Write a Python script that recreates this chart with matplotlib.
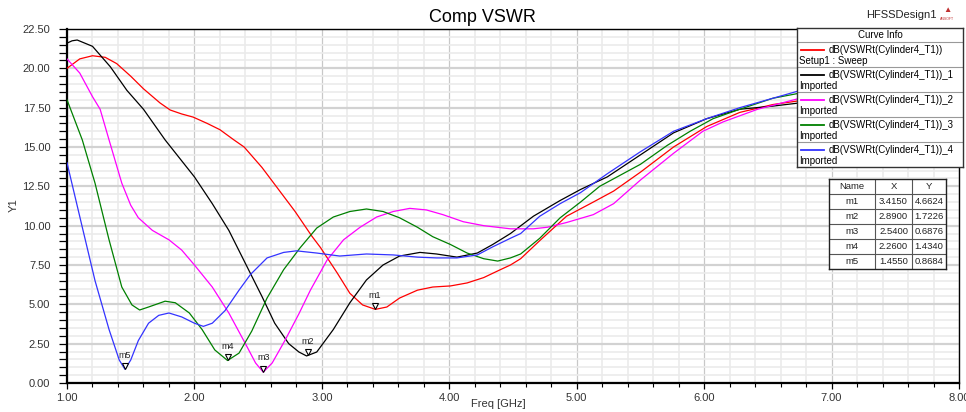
import numpy as np
import matplotlib
matplotlib.use("Agg")
import matplotlib.pyplot as plt
from matplotlib.ticker import MultipleLocator, FormatStrFormatter
from matplotlib import transforms

plt.rcParams['font.family'] = ['Liberation Sans', 'DejaVu Sans']

# ---- curve data (Freq GHz, dB VSWR) ----
red_f = [1.0, 1.1, 1.2, 1.3, 1.39, 1.5, 1.6, 1.73, 1.81, 1.9, 1.99, 2.1, 2.2, 2.31, 2.39, 2.53, 2.66,
         2.79, 2.92, 2.99, 3.12, 3.22, 3.32, 3.42, 3.51, 3.61, 3.75, 3.87, 4.01, 4.14, 4.27, 4.40,
         4.48, 4.56, 4.71, 4.92, 5.13, 5.29, 5.50, 5.76, 6.02, 6.28, 6.54, 6.80]
red_v = [20.0, 20.6, 20.8, 20.7, 20.3, 19.5, 18.7, 17.8, 17.35, 17.1, 16.9, 16.5, 16.1, 15.45, 15.0, 13.7, 12.3,
         10.9, 9.35, 8.6, 7.0, 5.7, 4.96, 4.68, 4.83, 5.4, 5.9, 6.1, 6.17, 6.36, 6.7, 7.2,
         7.5, 7.9, 9.05, 10.6, 11.5, 12.2, 13.4, 15.0, 16.3, 17.2, 17.7, 18.0]

black_f = [1.0, 1.04, 1.08, 1.2, 1.34, 1.47, 1.60, 1.77, 2.00, 2.14, 2.27, 2.40, 2.53, 2.63, 2.74, 2.82,
           2.88, 2.96, 3.09, 3.22, 3.35, 3.48, 3.61, 3.77, 3.90, 4.06, 4.22, 4.34, 4.48, 4.66, 4.87,
           5.03, 5.24, 5.50, 5.76, 6.02, 6.28, 6.54, 6.80]
black_v = [21.6, 21.75, 21.8, 21.4, 20.1, 18.6, 17.4, 15.45, 13.1, 11.4, 9.7, 7.6, 5.5, 3.8, 2.5, 1.97,
           1.72, 1.97, 3.4, 5.1, 6.55, 7.5, 8.07, 8.3, 8.2, 8.0, 8.26, 8.8, 9.5, 10.6, 11.6,
           12.3, 13.1, 14.5, 15.9, 16.8, 17.4, 17.6, 17.85]

magenta_f = [1.0, 1.10, 1.20, 1.26, 1.33, 1.43, 1.50, 1.56, 1.67, 1.80, 1.90, 2.00, 2.14, 2.27, 2.40,
             2.48, 2.54, 2.61, 2.71, 2.82, 2.91, 3.04, 3.17, 3.30, 3.43, 3.56, 3.69, 3.82, 3.95, 4.11,
             4.27, 4.48, 4.66, 4.77, 4.92, 5.13, 5.29, 5.50, 5.76, 5.99, 6.15, 6.42, 6.80]
magenta_v = [20.6, 19.7, 18.2, 17.4, 15.45, 12.7, 11.3, 10.5, 9.7, 9.1, 8.45, 7.5, 6.1, 4.45, 2.5,
             1.27, 0.69, 1.27, 2.7, 4.4, 5.9, 7.8, 9.1, 9.9, 10.55, 10.9, 11.1, 11.0, 10.7, 10.25,
             10.0, 9.8, 9.8, 9.9, 10.2, 10.7, 11.4, 12.9, 14.6, 16.0, 16.6, 17.4, 18.2]

green_f = [1.0, 1.12, 1.22, 1.33, 1.43, 1.51, 1.57, 1.64, 1.77, 1.85, 1.96, 2.06, 2.16, 2.26, 2.35,
           2.45, 2.57, 2.70, 2.83, 2.96, 3.09, 3.22, 3.35, 3.48, 3.61, 3.75, 3.87, 4.01, 4.14, 4.27,
           4.38, 4.48, 4.56, 4.71, 4.87, 5.03, 5.18, 5.50, 5.71, 5.89, 6.07, 6.28, 6.54, 6.80]
green_v = [18.0, 15.45, 12.7, 9.1, 6.1, 4.96, 4.64, 4.83, 5.2, 5.1, 4.45, 3.4, 2.1, 1.43, 1.9,
           3.3, 5.4, 7.2, 8.6, 9.85, 10.55, 10.9, 11.06, 10.9, 10.5, 9.9, 9.3, 8.8, 8.26, 7.9,
           7.75, 7.95, 8.2, 9.2, 10.5, 11.5, 12.5, 13.9, 15.1, 16.0, 16.8, 17.4, 18.1, 18.5]

blue_f = [1.0, 1.12, 1.22, 1.33, 1.41, 1.455, 1.50, 1.56, 1.64, 1.72, 1.80, 1.90, 2.00, 2.07, 2.14,
          2.24, 2.35, 2.44, 2.57, 2.70, 2.80, 2.96, 3.14, 3.35, 3.56, 3.75, 3.90, 4.06, 4.22, 4.34,
          4.48, 4.56, 4.71, 4.87, 5.03, 5.24, 5.50, 5.76, 6.02, 6.28, 6.54, 6.80]
blue_v = [14.0, 9.9, 6.5, 3.4, 1.46, 0.87, 1.46, 2.7, 3.8, 4.3, 4.45, 4.2, 3.8, 3.6, 3.8,
          4.6, 5.9, 6.9, 7.95, 8.3, 8.4, 8.26, 8.07, 8.2, 8.14, 8.0, 7.95, 7.95, 8.14, 8.65,
          9.2, 9.5, 10.6, 11.4, 12.1, 13.3, 14.7, 16.0, 16.8, 17.5, 18.1, 18.7]

curve_names = ['dB(VSWRt(Cylinder4_T1))', 'dB(VSWRt(Cylinder4_T1))_1', 'dB(VSWRt(Cylinder4_T1))_2',
               'dB(VSWRt(Cylinder4_T1))_3', 'dB(VSWRt(Cylinder4_T1))_4']
curve_sub = ['Setup1 : Sweep', 'Imported', 'Imported', 'Imported', 'Imported']
curve_colors = ['#ff0000', '#000000', '#ff00ff', '#008000', '#3333ff']

# markers (table)
mk_names = ['m1', 'm2', 'm3', 'm4', 'm5']
mk_x = [3.4150, 2.8900, 2.5400, 2.2600, 1.4550]
mk_y = [4.6624, 1.7226, 0.6876, 1.4340, 0.8684]

W, H = 966, 412
fig = plt.figure(figsize=(W / 100, H / 100), dpi=100)
ax = fig.add_axes([67 / W, 1 - 383 / H, (959 - 67) / W, (383 - 29) / H])

series = [(red_f, red_v), (black_f, black_v), (magenta_f, magenta_v), (green_f, green_v), (blue_f, blue_v)]
for (f, v), c in zip(series, curve_colors):
    ax.plot(f, v, color=c, lw=0.9, zorder=3, solid_joinstyle='round')

ax.set_xlim(1, 8)
ax.set_ylim(0, 22.5)
ax.xaxis.set_major_locator(MultipleLocator(1.0))
ax.xaxis.set_minor_locator(MultipleLocator(0.2))
ax.yaxis.set_major_locator(MultipleLocator(2.5))
ax.yaxis.set_minor_locator(MultipleLocator(0.5))
ax.xaxis.set_major_formatter(FormatStrFormatter('%.2f'))
ax.yaxis.set_major_formatter(FormatStrFormatter('%.2f'))

ax.grid(which='minor', color='#ebebeb', lw=1.2, zorder=0)
ax.grid(which='major', axis='x', color='#c8c8c8', lw=0.9, zorder=0)
ax.grid(which='major', axis='y', color='#d2d2d2', lw=1.6, zorder=0)
ax.set_axisbelow(True)

ax.tick_params(axis='both', which='both', direction='out', labelsize=8, labelcolor='#333333')
ax.tick_params(axis='y', which='both', length=6, width=0.9, pad=6)
ax.tick_params(axis='x', which='major', length=4, width=0.9, pad=3)
ax.tick_params(axis='x', which='minor', length=3, width=0.8)
for s in ['left', 'bottom']:
    ax.spines[s].set_linewidth(1.6)
for s in ['top', 'right']:
    ax.spines[s].set_linewidth(1.0)

# marker triangles and labels
off = transforms.offset_copy(ax.transData, fig=fig, x=0, y=2.5, units='points')
ax.plot(mk_x, mk_y, linestyle='', marker='v', markersize=5, markerfacecolor='white',
        markeredgecolor='black', markeredgewidth=0.8, transform=off, zorder=5)
for n, x, y in zip(mk_names, mk_x, mk_y):
    ax.annotate(n, (x, y), xytext=(0, 7), textcoords='offset points', ha='center', va='bottom',
                fontsize=6.5, color='#222222', zorder=6)

fig.text(482 / W, 1 - 17 / H, 'Comp VSWR', ha='center', va='center', fontsize=13)
fig.text(866 / W, 1 - 15 / H, 'HFSSDesign1', ha='left', va='center', fontsize=8, color='#222222')
fig.text(947 / W, 1 - 11 / H, '\u25b2', ha='center', va='center', fontsize=6, color='#c03030')
fig.text(947 / W, 1 - 19 / H, 'ANSOFT', ha='center', va='center', fontsize=2.5, color='#c03030')
fig.text(14 / W, 1 - 205 / H, 'Y1', rotation=90, ha='center', va='center', fontsize=8, color='#333333')
fig.text(498 / W, 1 - 404 / H, 'Freq [GHz]', ha='center', va='center', fontsize=8, color='#333333')

# Curve Info box
lx0, ly0, lw_, lh_ = 797, 28, 166, 139
lg = fig.add_axes([lx0 / W, 1 - (ly0 + lh_) / H, lw_ / W, lh_ / H])
lg.set_xlim(0, lw_)
lg.set_ylim(lh_, 0)
lg.set_xticks([])
lg.set_yticks([])
for s in lg.spines.values():
    s.set_linewidth(1.0)
    s.set_color('#333333')
lg.text(lw_ / 2, 7.5, 'Curve Info', ha='center', va='center', fontsize=7)
lg.axhline(14, color='#999999', lw=0.8)
for i in range(5):
    top = 14 + 25 * i
    if i > 0:
        lg.axhline(top, color='#999999', lw=0.8)
    lg.plot([4, 27], [top + 8, top + 8], color=curve_colors[i], lw=1.3)
    lg.text(32, top + 8, curve_names[i], ha='left', va='center', fontsize=7)
    lg.text(2, top + 19, curve_sub[i], ha='left', va='center', fontsize=7)

# marker table
tx0, ty0, tw, th = 829, 179, 117, 90
tb = fig.add_axes([tx0 / W, 1 - (ty0 + th) / H, tw / W, th / H])
tb.set_xlim(0, tw)
tb.set_ylim(th, 0)
tb.set_xticks([])
tb.set_yticks([])
for s in tb.spines.values():
    s.set_linewidth(1.0)
    s.set_color('#222222')
col_edges = [0, 46, 83, 117]
row_h = th / 6
for cx in col_edges[1:-1]:
    tb.axvline(cx, color='#555555', lw=0.8)
for r in range(1, 6):
    tb.axhline(r * row_h, color='#555555', lw=0.8)
rows = [['Name', 'X', 'Y']] + [[n, '%.4f' % x, '%.4f' % y] for n, x, y in zip(mk_names, mk_x, mk_y)]
for r, row in enumerate(rows):
    for c, txt in enumerate(row):
        tb.text((col_edges[c] + col_edges[c + 1]) / 2, (r + 0.5) * row_h, txt,
                ha='center', va='center', fontsize=6.8, color='#222222')

fig.savefig('out.png', dpi=100)
